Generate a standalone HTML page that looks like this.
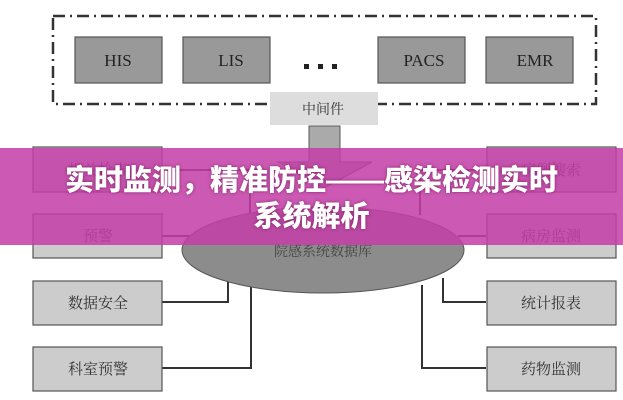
<!DOCTYPE html>
<html><head><meta charset="utf-8"><style>
body{margin:0;width:623px;height:400px;overflow:hidden;background:#fff;position:relative;font-family:"Liberation Serif","Noto Serif CJK SC",serif}
svg{position:absolute;left:0;top:0}
.banner{position:absolute;left:0;top:148px;width:623px;height:97px;background:rgba(196,62,166,0.86);color:#fff;font-family:"Liberation Sans","Noto Sans CJK SC",sans-serif;font-weight:900;font-size:29px;text-align:center;line-height:36px;padding-top:15px;box-sizing:border-box;text-shadow:0 0 3px rgba(80,0,60,.6);white-space:nowrap}
</style></head><body>
<svg width="623" height="400" viewBox="0 0 623 400">
<g font-family="Liberation Serif, Noto Serif CJK SC, serif" fill="#333" text-anchor="middle">
<rect x="53" y="16" width="543" height="88" fill="none" stroke="#333" stroke-width="2.5" stroke-dasharray="12,5,2,5"/>
<g fill="#999" stroke="#555" stroke-width="1.2">
<rect x="75" y="37" width="87" height="46"/><rect x="183" y="37" width="87" height="46"/>
<rect x="378" y="37" width="87" height="46"/><rect x="486" y="37" width="87" height="46"/>
</g>
<text x="118" y="66" font-size="17" fill="#222">HIS</text>
<text x="231" y="66" font-size="17" fill="#222">LIS</text>
<text x="424" y="66" font-size="17" fill="#222">PACS</text>
<text x="535" y="66" font-size="17" fill="#222">EMR</text>
<g fill="#222"><rect x="304" y="64" width="5" height="5"/><rect x="318" y="64" width="5" height="5"/><rect x="332" y="64" width="5" height="5"/></g>
<rect x="270" y="92" width="108" height="33" fill="#ddd"/>
<text x="323" y="114" font-size="14" fill="#333">中间件</text>
<path d="M309 126 H340 V162 H372 L324 188 L278 162 H309 Z" fill="#aaa" stroke="#555"/>
<g fill="none" stroke="#333" stroke-width="2">
<path d="M162 170 H250 V215"/><path d="M486 170 H420 V215"/>
<path d="M162 236 H190"/><path d="M486 236 H458"/>
<path d="M162 302 H228 V278"/><path d="M162 368 H251 V285"/>
<path d="M486 302 H443 V278"/><path d="M486 368 H422 V285"/>
</g>
<ellipse cx="323" cy="250" rx="141" ry="43" fill="#8c8c8c" stroke="#555"/>
<text x="323" y="256" font-size="14" fill="#444">院感系统数据库</text>
<g fill="#ccc" stroke="#555" stroke-width="1.2">
<rect x="33" y="147" width="129" height="45"/><rect x="33" y="214" width="129" height="44"/>
<rect x="33" y="281" width="129" height="44"/><rect x="33" y="347" width="129" height="44"/>
<rect x="487" y="147" width="129" height="45"/><rect x="487" y="214" width="129" height="44"/>
<rect x="487" y="281" width="129" height="44"/><rect x="487" y="347" width="129" height="44"/>
</g>
<g font-size="15" fill="#333">
<text x="98" y="175">相关检索</text><text x="98" y="241">预警</text>
<text x="98" y="308">数据安全</text><text x="98" y="374">科室预警</text>
<text x="551" y="175">病例搜索</text><text x="551" y="241">病房监测</text>
<text x="551" y="308">统计报表</text><text x="551" y="374">药物监测</text>
</g>
</g>
</svg>
<div class="banner">实时监测，精准防控——感染检测实时<br>系统解析</div>
</body></html>
